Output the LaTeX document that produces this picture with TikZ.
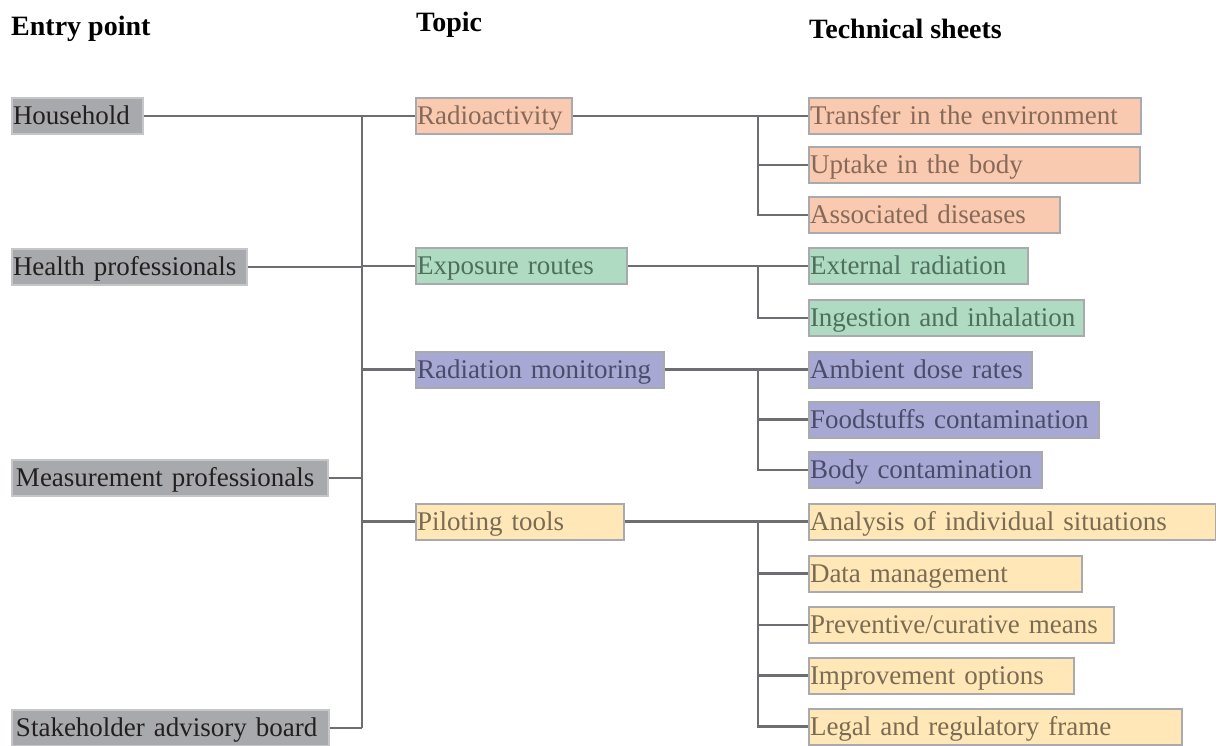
\documentclass[tikz,border=0pt]{standalone}
\usepackage{fontspec}
\setmainfont{Liberation Serif}
\usepackage{xcolor}

\definecolor{entryfill}{HTML}{A7A9AC}
\definecolor{entrytext}{HTML}{231F20}
\definecolor{entryline}{HTML}{C4C6C8}
\definecolor{radiofill}{HTML}{F9CAB0}
\definecolor{radiotext}{HTML}{87695A}
\definecolor{expofill}{HTML}{AEDBC2}
\definecolor{expotext}{HTML}{4E6F5C}
\definecolor{monitfill}{HTML}{A7A9D4}
\definecolor{monittext}{HTML}{4C4C6A}
\definecolor{pilotfill}{HTML}{FFE7B8}
\definecolor{pilottext}{HTML}{7A6C52}
\definecolor{boxline}{HTML}{A8AAAD}
\definecolor{linkgray}{HTML}{6D6E71}

\tikzset{
	box/.style={draw=boxline, line width=2pt, anchor=west, minimum height=36pt,
		inner xsep=1pt, inner ysep=0pt, align=left, text height=21pt, text depth=4pt,
		font=\fontsize{27}{30}\selectfont},
	entry/.style={box, fill=entryfill, text=entrytext, draw=entryline},
	radio/.style={box, fill=radiofill, text=radiotext},
	expo/.style={box, fill=expofill, text=expotext},
	monit/.style={box, fill=monitfill, text=monittext},
	pilot/.style={box, fill=pilotfill, text=pilottext},
	head/.style={anchor=west, inner sep=0pt, font=\fontsize{28}{30}\selectfont\bfseries},
	link/.style={draw=linkgray, line width=2.5pt}
}

\begin{document}
\begin{tikzpicture}
	[x=1pt, y=-1pt]

	\useasboundingbox (0,0) rectangle (1216,745);

	% headings
	\node[head] (h1) at (11,29) {Entry point};
	\node[head] (h2) at (416,25) {Topic};
	\node[head] (h3) at (809,29) {Technical sheets};

	% entry points
	\node[entry, text width=129pt] (house)   at (11,116) {Household};
	\node[entry, text width=233pt] (health)  at (11,267) {Health professionals};
	\node[entry, inner xsep=4pt, text width=308pt] (measure) at (11,478) {Measurement professionals};
	\node[entry, inner xsep=4pt, text width=309pt] (stake)   at (11,728) {Stakeholder advisory board};

	% topics
	\node[radio, text width=154pt] (radio) at (415,116)   {Radioactivity};
	\node[expo,  text width=209pt] (expo)  at (415,266)   {Exposure routes};
	\node[monit, text width=246pt] (monit) at (415,369.5) {Radiation monitoring};
	\node[pilot, text width=206pt] (pilot) at (415,521.5) {Piloting tools};

	% technical sheets
	\node[radio, text width=330pt] (transfer) at (808,116)   {Transfer in the environment};
	\node[radio, text width=329pt] (uptake)   at (808,165)   {Uptake in the body};
	\node[radio, text width=249pt] (assoc)    at (808,215)   {Associated diseases};
	\node[expo,  text width=217pt] (extern)   at (808,266)   {External radiation};
	\node[expo,  text width=273pt] (ingest)   at (808,318)   {Ingestion and inhalation};
	\node[monit, text width=221pt] (ambient)  at (808,369.5) {Ambient dose rates};
	\node[monit, text width=288pt] (food)     at (808,419.5) {Foodstuffs contamination};
	\node[monit, text width=231pt] (body)     at (808,470)   {Body contamination};
	\node[pilot, text width=405pt] (analysis) at (808,521.5) {Analysis of individual situations};
	\node[pilot, text width=271pt] (datam)    at (808,573.5) {Data management};
	\node[pilot, text width=303pt] (prevent)  at (808,625)   {Preventive/curative means};
	\node[pilot, text width=263pt] (improve)  at (808,675.5) {Improvement options};
	\node[pilot, text width=371pt] (legal)    at (808,726.5) {Legal and regulatory frame};

	\coordinate (trunk) at (362,0);
	\coordinate (bus) at (758,0);

	% entry points to topics
	\draw[link] (house.east -| trunk) -- (stake.east -| trunk);
	\foreach \n in {house, health, measure, stake}
		\draw[link] (\n.east) -- (\n.east -| trunk);
	\foreach \n in {radio, expo, monit, pilot}
		\draw[link] (\n.west -| trunk) -- (\n.west);

	% topics to technical sheets
	\draw[link] (radio.east) -- (radio.east -| bus);
	\foreach \n in {transfer, uptake, assoc}
		\draw[link] (radio.east -| bus) |- (\n.west);
	\draw[link] (expo.east) -- (expo.east -| bus);
	\foreach \n in {extern, ingest}
		\draw[link] (expo.east -| bus) |- (\n.west);
	\draw[link] (monit.east) -- (monit.east -| bus);
	\foreach \n in {ambient, food, body}
		\draw[link] (monit.east -| bus) |- (\n.west);
	\draw[link] (pilot.east) -- (pilot.east -| bus);
	\foreach \n in {analysis, datam, prevent, improve, legal}
		\draw[link] (pilot.east -| bus) |- (\n.west);

\end{tikzpicture}
\end{document}
